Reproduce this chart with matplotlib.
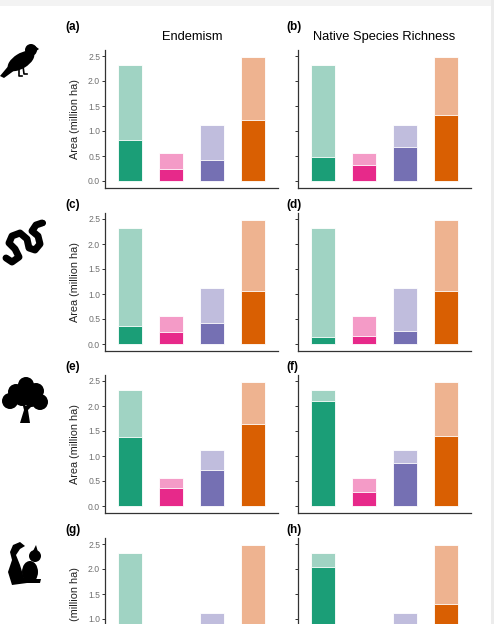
import matplotlib.pyplot as plt
from matplotlib.patches import Polygon, Circle, Ellipse, Rectangle

# categories (x positions 1..4) and colours (Dark2)
cats = [1, 2, 3, 4]
dark_cols = ['#1B9E77', '#E7298A', '#7570B3', '#D95F02']
light_cols = ['#A0D3C3', '#F49BC7', '#C0BDDD', '#EEB390']

# total area per category (light bars), same in every panel
total = [2.32, 0.56, 1.12, 2.49]

# overlapping area (dark bars) per taxon, Endemism / Native Species Richness
bird_end = [0.82, 0.24, 0.43, 1.23]
bird_rich = [0.49, 0.33, 0.68, 1.33]
herp_end = [0.36, 0.24, 0.43, 1.06]
herp_rich = [0.15, 0.17, 0.27, 1.07]
tree_end = [1.39, 0.36, 0.73, 1.65]
tree_rich = [2.10, 0.28, 0.87, 1.40]
mamm_end = [0.60, 0.20, 0.40, 0.80]
mamm_rich = [2.05, 0.30, 0.60, 1.30]

rows = [(bird_end, bird_rich), (herp_end, herp_rich),
        (tree_end, tree_rich), (mamm_end, mamm_rich)]
letters = [('(a)', '(b)'), ('(c)', '(d)'), ('(e)', '(f)'), ('(g)', '(h)')]
yticks = [0.0, 0.5, 1.0, 1.5, 2.0, 2.5]

W, H = 494, 624
fig = plt.figure(figsize=(W / 100, H / 100), dpi=100)
plt.rcParams['font.family'] = ['Liberation Sans', 'DejaVu Sans']

row_tops = [50, 213, 375, 538]
col_lefts = [105, 298]
aw, ah = 173, 138

for r, (vals_pair, lab_pair) in enumerate(zip(rows, letters)):
    for c in range(2):
        x0 = col_lefts[c]
        y0 = row_tops[r]
        ax = fig.add_axes([x0 / W, 1 - (y0 + ah) / H, aw / W, ah / H])
        ax.bar(cats, total, width=0.58, color=light_cols, edgecolor='white', linewidth=0.6)
        ax.bar(cats, vals_pair[c], width=0.58, color=dark_cols, edgecolor='white', linewidth=0.6)
        ax.set_xlim(0.4, 4.6)
        ax.set_ylim(-0.14, 2.62)
        ax.set_yticks(yticks)
        for s in ['top', 'right']:
            ax.spines[s].set_visible(False)
        for s in ['left', 'bottom']:
            ax.spines[s].set_color('#333333')
            ax.spines[s].set_linewidth(0.9)
        ax.set_xticks([])
        ax.tick_params(axis='y', length=2, width=0.7, color='#333333',
                       labelsize=6.2, labelcolor='#707070', pad=1.5)
        if c == 0:
            ax.set_yticklabels(['%.1f' % t for t in yticks])
            ax.set_ylabel('Area (million ha)', fontsize=7.8, color='#222222')
            ax.yaxis.set_label_coords(-0.145, 0.5)
            lx = x0 - 40
        else:
            ax.set_yticklabels([])
            lx = x0 - 12
        ly = y0 - 23 if r == 0 else y0 - 8
        fig.text(lx / W, 1 - ly / H, lab_pair[c], fontsize=8.5,
                 fontweight='bold', ha='left', va='center')

fig.text(192 / W, 1 - 37 / H, 'Endemism', fontsize=9.3, ha='center', va='center')
fig.text(384 / W, 1 - 37 / H, 'Native Species Richness', fontsize=9.3, ha='center', va='center')

# silhouettes and screenshot border
ov = fig.add_axes([0, 0, 1, 1], zorder=-1)
ov.set_xlim(0, W)
ov.set_ylim(H, 0)
ov.set_axis_off()
ov.add_patch(Rectangle((0, 0), W, 6, color='#f3f3f3', lw=0))
ov.add_patch(Rectangle((W - 3, 0), 3, H, color='#ececec', lw=0))

k = 'black'
# bird
ov.add_patch(Ellipse((21, 61), 30, 15, angle=-32, color=k, lw=0))
ov.add_patch(Circle((31, 50), 6, color=k, lw=0))
ov.add_patch(Polygon([(35, 46), (39, 49), (35, 52)], closed=True, color=k, lw=0))
ov.add_patch(Polygon([(10, 64), (0, 76), (4, 78), (15, 70)], closed=True, color=k, lw=0))
ov.plot([19, 19, 22], [67, 76, 76], color=k, lw=1.2)
ov.plot([23, 24, 27], [66, 74, 74], color=k, lw=1.2)

# snake
snake = [(6, 258), (12, 262), (19, 257), (15, 249), (9, 243), (12, 236), (20, 233),
         (27, 239), (29, 248), (35, 250), (40, 244), (38, 236), (32, 231), (36, 225),
         (42, 223)]
ov.plot([p[0] for p in snake], [p[1] for p in snake], color=k, lw=5,
        solid_capstyle='round', solid_joinstyle='round')
ov.add_patch(Circle((43, 223), 3, color=k, lw=0))

# tree
for cx, cy in [(16, 392), (26, 385), (36, 391), (10, 401), (22, 398), (40, 402), (31, 399)]:
    ov.add_patch(Circle((cx, cy), 8, color=k, lw=0))
ov.add_patch(Polygon([(20, 423), (30, 423), (28, 410), (34, 404), (26, 406), (22, 402),
                      (24, 410)], closed=True, color=k, lw=0))

# squirrel
tail = [(12, 585), (8, 572), (12, 560), (10, 552), (13, 545), (20, 542), (25, 546),
        (20, 549), (16, 555), (20, 565), (24, 578), (27, 583)]
ov.add_patch(Polygon(tail, closed=True, color=k, lw=0))
ov.add_patch(Ellipse((30, 572), 16, 22, color=k, lw=0))
ov.add_patch(Circle((35, 556), 6, color=k, lw=0))
ov.add_patch(Polygon([(33, 551), (36, 545), (38, 552)], closed=True, color=k, lw=0))
ov.add_patch(Polygon([(22, 583), (40, 583), (41, 579), (24, 579)], closed=True, color=k, lw=0))

fig.savefig('out.png', dpi=100)
